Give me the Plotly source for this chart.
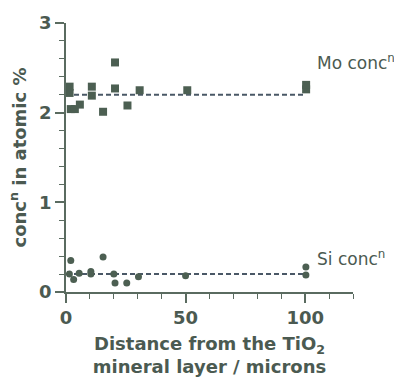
import plotly.graph_objects as go

# Mo concentration (atomic %) vs distance from the TiO2 layer (microns)
mo_x = [1.5, 1.5, 2.0, 3.7, 5.8, 10.8, 10.8, 15.5, 20.5, 20.5, 25.7, 30.8, 50.7, 100.4, 100.4]
mo_y = [2.22, 2.29, 2.04, 2.04, 2.09, 2.29, 2.19, 2.01, 2.56, 2.27, 2.08, 2.25, 2.25, 2.26, 2.31]

# Si concentration (atomic %)
si_x = [2.0, 1.4, 3.2, 5.5, 10.4, 10.4, 15.5, 20.0, 20.5, 25.4, 30.3, 50.0, 100.3, 100.3]
si_y = [0.35, 0.20, 0.14, 0.21, 0.20, 0.23, 0.39, 0.20, 0.10, 0.10, 0.17, 0.18, 0.28, 0.19]

# Mean levels drawn as dashed lines
mean_x = [0, 100]
mo_mean = [2.2, 2.2]
si_mean = [0.2, 0.2]

x_ticks = [0, 50, 100]
y_ticks = [0, 1, 2, 3]

ink = "#4b5a51"
axis_col = "#5a6b60"
font = "DejaVu Sans"

fig = go.Figure()
for ym in (mo_mean, si_mean):
    fig.add_trace(go.Scatter(x=mean_x, y=ym, mode="lines",
                             line=dict(color="#4a5866", width=2, dash="5px,3px"),
                             hoverinfo="skip"))
fig.add_trace(go.Scatter(x=mo_x, y=mo_y, mode="markers",
                         marker=dict(symbol="square", size=8, color="#4c5f52",
                                     line=dict(width=0))))
fig.add_trace(go.Scatter(x=si_x, y=si_y, mode="markers",
                         marker=dict(symbol="circle", size=7, color="#4c5f52",
                                     line=dict(width=0))))

fig.add_annotation(x=104, y=2.56, xref="x", yref="y", xanchor="left",
                   text="Mo conc<sup>n</sup>", showarrow=False,
                   font=dict(family=font, size=17, color=ink))
fig.add_annotation(x=104, y=0.38, xref="x", yref="y", xanchor="left",
                   text="Si conc<sup>n</sup>", showarrow=False,
                   font=dict(family=font, size=17, color=ink))

fig.update_layout(
    width=394, height=388,
    margin=dict(l=66, r=41, t=17, b=96),
    paper_bgcolor="white", plot_bgcolor="white",
    showlegend=False,
    font=dict(family=font, color=ink),
    xaxis=dict(
        range=[0, 120], showgrid=False, zeroline=False,
        showline=True, linecolor=axis_col, linewidth=1.5,
        tickmode="array", tickvals=x_ticks,
        ticktext=[f"<b>{v}</b>" for v in x_ticks],
        ticks="outside", ticklen=9, tickwidth=1.5, tickcolor=axis_col,
        minor=dict(dtick=10, ticks="outside", ticklen=5, tickwidth=1,
                   tickcolor=axis_col),
        tickfont=dict(family=font, size=18, color=ink),
        title=dict(text="<b>Distance from the TiO<sub>2</sub><br>mineral layer / microns</b>",
                   font=dict(family=font, size=18, color=ink), standoff=10),
    ),
    yaxis=dict(
        range=[0, 3], showgrid=False, zeroline=False,
        showline=True, linecolor=axis_col, linewidth=1.5,
        tickmode="array", tickvals=y_ticks,
        ticktext=[f"<b>{v}</b>" for v in y_ticks],
        ticks="outside", ticklen=9, tickwidth=1.5, tickcolor=axis_col,
        minor=dict(dtick=0.2, ticks="outside", ticklen=5, tickwidth=1,
                   tickcolor=axis_col),
        tickfont=dict(family=font, size=18, color=ink),
        title=dict(text="<b>conc<sup>n</sup> in atomic %</b>",
                   font=dict(family=font, size=18, color=ink), standoff=8),
    ),
)

fig.write_html("out.html")
